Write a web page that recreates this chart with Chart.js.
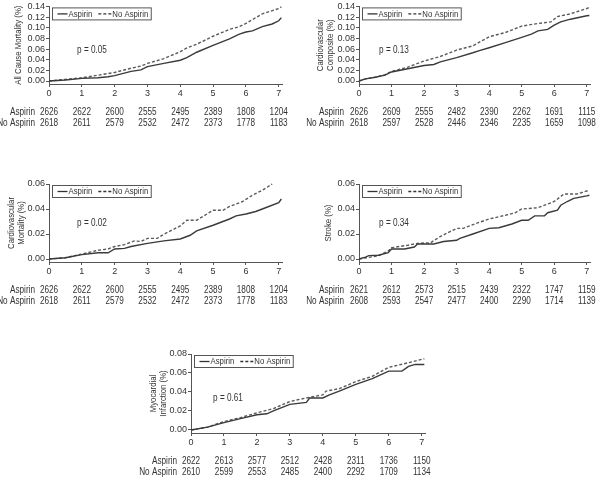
<!DOCTYPE html>
<html>
<head>
<meta charset="utf-8">
<script src="https://cdn.jsdelivr.net/npm/chart.js@4.4.1/dist/chart.umd.min.js"></script>
<style>
  html, body { margin: 0; padding: 0; background: #fff; }
  body { width: 600px; height: 479px; position: relative; overflow: hidden; }
  canvas { position: absolute; }
</style>
</head>
<body>
<canvas id="acm"></canvas>
<canvas id="cvc"></canvas>
<canvas id="cvm"></canvas>
<canvas id="stroke"></canvas>
<canvas id="mi"></canvas>
<script>
// ---- data ----
const seriesNames = ['Aspirin', 'No Aspirin'];
const years = [0, 1, 2, 3, 4, 5, 6, 7];

// All cause mortality
const acmAspT = [0, 0.5, 1, 1.5, 1.8, 2, 2.5, 2.8, 3, 3.5, 4, 4.2, 4.5, 5, 5.5, 5.8, 6, 6.2, 6.5, 6.8, 7, 7.08];
const acmAspY = [0, 0.002, 0.005, 0.006, 0.008, 0.010, 0.018, 0.021, 0.027, 0.033, 0.039, 0.044, 0.054, 0.067, 0.079, 0.088, 0.092, 0.094, 0.102, 0.107, 0.113, 0.119];
const acmNoT = [0, 0.5, 1, 1.5, 2, 2.5, 2.8, 3, 3.5, 4, 4.2, 4.5, 5, 5.5, 5.8, 6, 6.3, 6.5, 7, 7.08];
const acmNoY = [0, 0.003, 0.006, 0.011, 0.016, 0.024, 0.028, 0.033, 0.042, 0.055, 0.062, 0.069, 0.084, 0.097, 0.102, 0.108, 0.119, 0.126, 0.136, 0.139];
const acmRiskAsp = [2626, 2622, 2600, 2555, 2495, 2389, 1808, 1204];
const acmRiskNo = [2618, 2611, 2579, 2532, 2472, 2373, 1778, 1183];

// Cardiovascular composite
const cvcAspT = [0, 0.2, 0.5, 0.8, 1, 1.5, 2, 2.3, 2.5, 3, 3.5, 3.7, 4, 4.5, 5, 5.3, 5.5, 5.8, 6, 6.2, 6.5, 7, 7.08];
const cvcAspY = [0, 0.004, 0.007, 0.011, 0.017, 0.023, 0.029, 0.031, 0.036, 0.044, 0.053, 0.057, 0.0625, 0.072, 0.082, 0.088, 0.094, 0.097, 0.105, 0.111, 0.116, 0.1225, 0.123];
const cvcNoT = [0, 0.2, 0.5, 0.8, 1, 1.5, 2, 2.5, 3, 3.5, 4, 4.5, 5, 5.5, 5.9, 6.1, 6.5, 7, 7.08];
const cvcNoY = [0, 0.004, 0.007, 0.012, 0.018, 0.026, 0.0375, 0.046, 0.058, 0.066, 0.083, 0.091, 0.103, 0.108, 0.111, 0.121, 0.126, 0.136, 0.138];
const cvcRiskAsp = [2626, 2609, 2555, 2482, 2390, 2262, 1691, 1115];
const cvcRiskNo = [2618, 2597, 2528, 2446, 2346, 2235, 1659, 1098];

// Cardiovascular mortality
const cvmAspT = [0, 0.5, 1, 1.5, 1.8, 2, 2.3, 2.5, 3, 3.5, 4, 4.3, 4.5, 5, 5.5, 5.7, 6, 6.3, 6.5, 7, 7.08];
const cvmAspY = [0, 0.001, 0.0035, 0.005, 0.005, 0.008, 0.0085, 0.010, 0.0125, 0.0145, 0.016, 0.019, 0.0225, 0.027, 0.032, 0.0345, 0.036, 0.038, 0.040, 0.045, 0.048];
const cvmNoT = [0, 0.5, 1, 1.5, 1.8, 2, 2.3, 2.6, 2.8, 3, 3.3, 3.5, 4, 4.2, 4.5, 5, 5.3, 5.5, 5.9, 6.2, 6.5, 6.8];
const cvmNoY = [0, 0.001, 0.004, 0.007, 0.008, 0.010, 0.0115, 0.0145, 0.014, 0.0165, 0.0165, 0.0198, 0.0265, 0.031, 0.031, 0.039, 0.039, 0.042, 0.046, 0.051, 0.055, 0.060];
const cvmRiskAsp = [2626, 2622, 2600, 2555, 2495, 2389, 1808, 1204];
const cvmRiskNo = [2618, 2611, 2579, 2532, 2472, 2373, 1778, 1183];

// Stroke
const strAspT = [0, 0.2, 0.3, 0.6, 0.9, 1, 1.4, 1.7, 1.8, 2.3, 2.6, 3, 3.1, 3.5, 4, 4.3, 4.7, 5, 5.2, 5.4, 5.7, 5.8, 6.1, 6.2, 6.4, 6.6, 7, 7.08];
const strAspY = [0, 0.0015, 0.0027, 0.003, 0.005, 0.008, 0.008, 0.0096, 0.012, 0.012, 0.014, 0.015, 0.0165, 0.020, 0.0245, 0.025, 0.028, 0.031, 0.031, 0.0345, 0.0345, 0.037, 0.039, 0.043, 0.046, 0.0485, 0.0505, 0.051];
const strNoT = [0, 0.3, 0.6, 0.9, 1, 1.5, 1.8, 2.2, 2.5, 3, 3.2, 3.6, 4, 4.5, 4.8, 5, 5.5, 6, 6.3, 6.7, 7.08];
const strNoY = [0, 0.0013, 0.0027, 0.0064, 0.009, 0.011, 0.0125, 0.013, 0.018, 0.0245, 0.0245, 0.0285, 0.032, 0.035, 0.037, 0.040, 0.041, 0.046, 0.052, 0.052, 0.055];
const strRiskAsp = [2621, 2612, 2573, 2515, 2439, 2322, 1747, 1159];
const strRiskNo = [2608, 2593, 2547, 2477, 2400, 2290, 1714, 1139];

// Myocardial infarction
const miAspT = [0, 0.5, 1, 1.5, 2, 2.3, 2.5, 3, 3.5, 3.6, 4, 4.2, 4.5, 5, 5.5, 6, 6.4, 6.6, 6.8, 7.08];
const miAspY = [0, 0.003, 0.0077, 0.012, 0.016, 0.017, 0.020, 0.027, 0.029, 0.0337, 0.0337, 0.037, 0.041, 0.048, 0.054, 0.062, 0.062, 0.067, 0.069, 0.069];
const miNoT = [0, 0.5, 1, 1.5, 2, 2.5, 3, 3.5, 4, 4.1, 4.5, 5, 5.5, 6, 6.5, 7.08];
const miNoY = [0, 0.003, 0.0088, 0.013, 0.018, 0.0225, 0.030, 0.0337, 0.037, 0.041, 0.0435, 0.051, 0.0565, 0.066, 0.070, 0.075];
const miRiskAsp = [2622, 2613, 2577, 2512, 2428, 2311, 1736, 1150];
const miRiskNo = [2610, 2599, 2553, 2485, 2400, 2292, 1709, 1134];

const ticks14 = [0, 0.02, 0.04, 0.06, 0.08, 0.10, 0.12, 0.14];
const ticks06 = [0, 0.02, 0.04, 0.06];
const ticks08 = [0, 0.02, 0.04, 0.06, 0.08];

// ---- styling / layout ----
const FONT = "'Liberation Sans', Arial, sans-serif";
const INK = '#333';
const AXIS = '#555';
const SQUEEZE = 0.82; // the source uses a narrow face

function zip(t, y) {
  return t.map((v, i) => ({ x: v, y: y[i] }));
}

// narrow text: draw with a horizontal squeeze
function narrowText(ctx, text, x, y, align, size, rot) {
  ctx.save();
  ctx.translate(x, y);
  if (rot) ctx.rotate(rot);
  ctx.scale(SQUEEZE, 1);
  ctx.font = size + 'px ' + FONT;
  ctx.textAlign = align;
  ctx.textBaseline = 'middle';
  ctx.fillText(text, 0, 0);
  ctx.restore();
}

function narrowWidth(ctx, text, size) {
  ctx.save();
  ctx.font = size + 'px ' + FONT;
  const w = ctx.measureText(text).width * SQUEEZE;
  ctx.restore();
  return w;
}

function makePanel(id, p) {
  const el = document.getElementById(id);
  el.width = p.w; el.height = p.h;
  el.style.left = p.left + 'px'; el.style.top = p.top + 'px';

  const overlay = {
    id: 'overlay',
    afterDraw(chart) {
      const ctx = chart.ctx;
      const a = chart.chartArea;
      const xs = chart.scales.x;
      ctx.save();
      ctx.fillStyle = INK;

      // y axis title (one or two lines)
      const midY = (a.top + a.bottom) / 2;
      p.title.forEach((line, i) => narrowText(ctx, line, p.titleX[i], midY, 'center', 9.5, -Math.PI / 2));

      // p value
      narrowText(ctx, p.pText, a.left + p.pDx, a.top + p.pDy, 'center', 10);

      // legend box
      const bx = a.left + 3.5, by = a.top + 1.5, bh = 12;
      const cy = by + bh / 2;
      let cx = bx + 5;
      ctx.strokeStyle = INK;
      ctx.lineWidth = 1.3;
      ctx.beginPath(); ctx.moveTo(cx, cy); ctx.lineTo(cx + 10, cy); ctx.stroke();
      cx += 11;
      narrowText(ctx, seriesNames[0], cx, cy, 'left', 9.5);
      cx += narrowWidth(ctx, seriesNames[0], 9.5) + 6;
      ctx.setLineDash([3, 2]);
      ctx.beginPath(); ctx.moveTo(cx, cy); ctx.lineTo(cx + 13, cy); ctx.stroke();
      ctx.setLineDash([]);
      cx += 14;
      narrowText(ctx, seriesNames[1], cx, cy, 'left', 9.5);
      cx += narrowWidth(ctx, seriesNames[1], 9.5) + 3;
      ctx.lineWidth = 1;
      ctx.strokeStyle = AXIS;
      ctx.strokeRect(bx, by, cx - bx, bh);

      // numbers at risk
      const rows = [[seriesNames[0], p.riskAsp], [seriesNames[1], p.riskNo]];
      rows.forEach((row, r) => {
        const y = a.bottom + 28 + r * 11;
        narrowText(ctx, row[0], p.rowLabelX, y, 'right', 10);
        row[1].forEach((n, i) => narrowText(ctx, String(n), xs.getPixelForValue(years[i]), y, 'center', 10));
      });
      ctx.restore();
    }
  };

  return new Chart(el, {
    type: 'line',
    data: {
      datasets: [
        {
          label: seriesNames[0],
          data: zip(p.aspT, p.aspY),
          borderColor: '#3a3a3a',
          borderWidth: 1.4,
          pointRadius: 0,
          clip: 4
        },
        {
          label: seriesNames[1],
          data: zip(p.noT, p.noY),
          borderColor: '#5a5a5a',
          borderWidth: 1.4,
          borderDash: [3, 2],
          pointRadius: 0,
          clip: 4
        }
      ]
    },
    options: {
      responsive: false,
      animation: false,
      events: [],
      layout: { padding: { left: 0, top: p.pt, right: p.pr, bottom: p.pb } },
      plugins: { legend: { display: false }, tooltip: { enabled: false } },
      elements: { line: { tension: 0 } },
      scales: {
        x: {
          type: 'linear',
          min: 0,
          max: 7.1,
          afterBuildTicks: s => { s.ticks = years.map(v => ({ value: v })); },
          afterFit: s => { s.height = 12; },
          grid: { drawOnChartArea: false, tickLength: 3, color: AXIS },
          border: { color: AXIS },
          ticks: { font: { family: FONT, size: 9 }, color: INK, padding: 1, maxRotation: 0, autoSkip: false }
        },
        y: {
          min: p.yMin,
          max: p.yMax,
          afterBuildTicks: s => { s.ticks = p.yTicks.map(v => ({ value: v })); },
          afterFit: s => { s.width = p.wy; },
          grid: { drawOnChartArea: false, tickLength: 3, color: AXIS },
          border: { color: AXIS },
          ticks: {
            font: { family: FONT, size: 9 }, color: INK, padding: 1, autoSkip: false,
            callback: v => v.toFixed(2)
          }
        }
      }
    },
    plugins: [overlay]
  });
}

makePanel('acm', {
  left: 0, top: 0, w: 300, h: 160, pt: 6, pr: 18, pb: 64, wy: 49,
  yMin: -0.0056, yMax: 0.14, yTicks: ticks14,
  title: ['All Cause Mortality (%)'], titleX: [18],
  pText: 'p = 0.05', pDx: 43, pDy: 44, rowLabelX: 35,
  aspT: acmAspT, aspY: acmAspY, noT: acmNoT, noY: acmNoY, riskAsp: acmRiskAsp, riskNo: acmRiskNo
});

makePanel('cvc', {
  left: 300, top: 0, w: 300, h: 160, pt: 6, pr: 10, pb: 64, wy: 59,
  yMin: -0.0056, yMax: 0.14, yTicks: ticks14,
  title: ['Cardiovascular', 'Composite (%)'], titleX: [20, 30],
  pText: 'p = 0.13', pDx: 35, pDy: 44, rowLabelX: 44,
  aspT: cvcAspT, aspY: cvcAspY, noT: cvcNoT, noY: cvcNoY, riskAsp: cvcRiskAsp, riskNo: cvcRiskNo
});

makePanel('cvm', {
  left: 0, top: 160, w: 300, h: 160, pt: 24, pr: 18, pb: 46, wy: 49,
  yMin: -0.0024, yMax: 0.06, yTicks: ticks06,
  title: ['Cardiovascular', 'Mortality (%)'], titleX: [11, 21],
  pText: 'p = 0.02', pDx: 43, pDy: 39, rowLabelX: 35,
  aspT: cvmAspT, aspY: cvmAspY, noT: cvmNoT, noY: cvmNoY, riskAsp: cvmRiskAsp, riskNo: cvmRiskNo
});

makePanel('stroke', {
  left: 300, top: 160, w: 300, h: 160, pt: 24, pr: 10, pb: 46, wy: 59,
  yMin: -0.0024, yMax: 0.06, yTicks: ticks06,
  title: ['Stroke (%)'], titleX: [28],
  pText: 'p = 0.34', pDx: 35, pDy: 39, rowLabelX: 44,
  aspT: strAspT, aspY: strAspY, noT: strNoT, noY: strNoY, riskAsp: strRiskAsp, riskNo: strRiskNo
});

makePanel('mi', {
  left: 120, top: 320, w: 330, h: 159, pt: 34, pr: 25, pb: 34, wy: 71,
  yMin: -0.0032, yMax: 0.08, yTicks: ticks08,
  title: ['Myocardial', 'Infarction (%)'], titleX: [33, 43],
  pText: 'p = 0.61', pDx: 37, pDy: 44, rowLabelX: 57,
  aspT: miAspT, aspY: miAspY, noT: miNoT, noY: miNoY, riskAsp: miRiskAsp, riskNo: miRiskNo
});
</script>
</body>
</html>
